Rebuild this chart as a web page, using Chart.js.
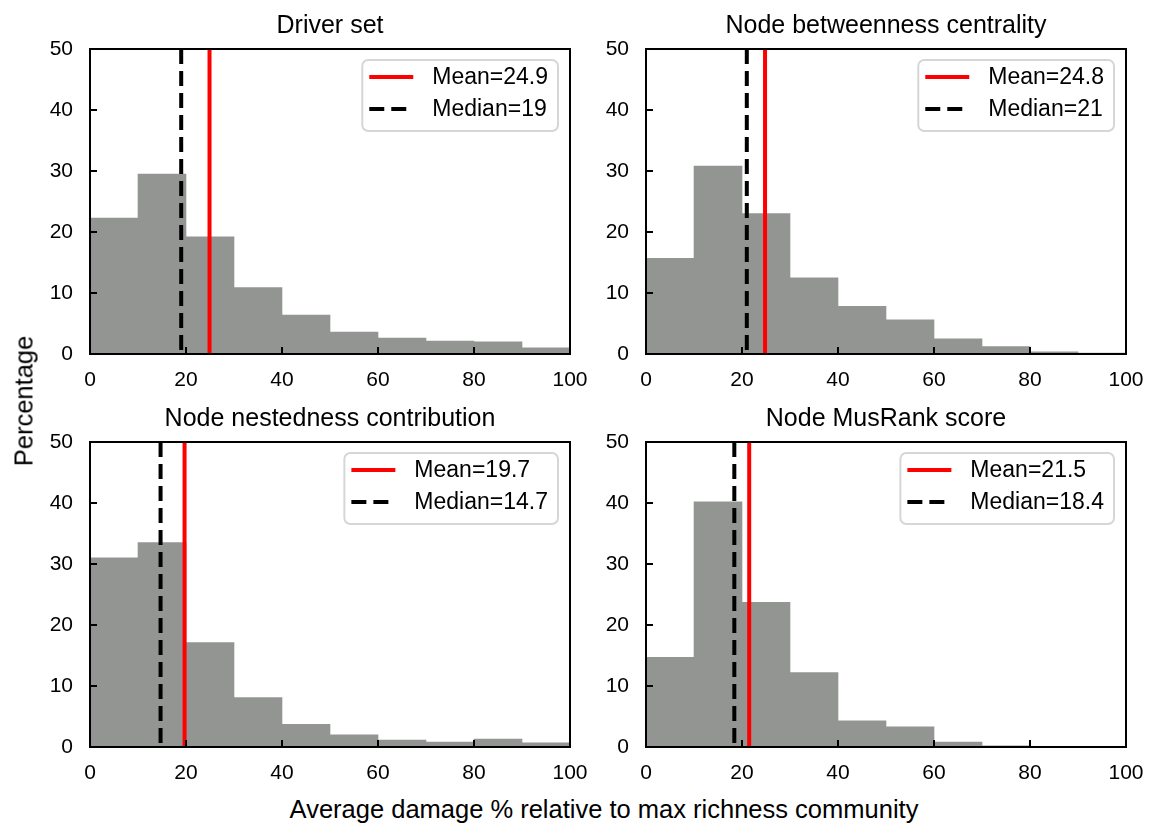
<!DOCTYPE html>
<html>
<head>
<meta charset="utf-8">
<title>Average damage histograms</title>
<script src="https://cdn.jsdelivr.net/npm/chart.js@4.4.1/dist/chart.umd.min.js"></script>
<style>
  body { margin: 0; background: #fff; }
  #fig { position: relative; width: 1159px; height: 824px; overflow: hidden;
         font-family: 'Liberation Sans', Arial, sans-serif; color: #000; }
  #fig canvas { position: absolute; }
  .xlabel { position: absolute; left: 604px; top: 797px; transform: translateX(-50%);
            font-size: 25.5px; line-height: 25px; white-space: nowrap; }
  .ylabel { position: absolute; left: 24px; top: 401px; transform: translate(-50%, -50%) rotate(-90deg);
            font-size: 25.5px; line-height: 25px; white-space: nowrap; }
</style>
</head>
<body>
<div id="fig">
  <canvas id="c0" width="570" height="394" style="left:20px; top:0px;"></canvas>
  <canvas id="c1" width="570" height="394" style="left:576px; top:0px;"></canvas>
  <canvas id="c2" width="570" height="394" style="left:20px; top:393px;"></canvas>
  <canvas id="c3" width="570" height="394" style="left:576px; top:393px;"></canvas>
  <div class="xlabel">Average damage % relative to max richness community</div>
  <div class="ylabel">Percentage</div>
</div>
<script>
// histogram bins (10-wide, 0..100)
const binCenters = [5, 15, 25, 35, 45, 55, 65, 75, 85, 95];

const titles = ['Driver set', 'Node betweenness centrality', 'Node nestedness contribution', 'Node MusRank score'];

// percentage of runs per bin
const driverSet   = [22.3, 29.5, 19.2, 10.9, 6.4, 3.6, 2.6, 2.1, 2.0, 1.0];
const betweenness = [15.7, 30.8, 23.0, 12.5, 7.8, 5.6, 2.5, 1.2, 0.35, 0.15];
const nestedness  = [31.0, 33.5, 17.1, 8.1, 3.7, 2.0, 1.15, 0.8, 1.3, 0.7];
const musRank     = [14.7, 40.2, 23.7, 12.2, 4.3, 3.3, 0.8, 0.2, 0, 0];

const means   = [24.9, 24.8, 19.7, 21.5];
const medians = [19, 21, 14.7, 18.4];

const xMax = 100, xStep = 20;
const yMax = 50, yStep = 10;

const series = [driverSet, betweenness, nestedness, musRank];

Chart.defaults.font.family = "'Liberation Sans', Arial, sans-serif";
Chart.defaults.color = '#000';

// frame, inward ticks, legend box and panel title
const panelDecor = {
  id: 'panelDecor',
  afterDatasetsDraw(chart, args, opts) {
    const { ctx, chartArea: a, scales: { x, y } } = chart;
    ctx.save();
    ctx.setLineDash([]);
    ctx.strokeStyle = '#000';
    ctx.lineWidth = 2;
    ctx.beginPath();
    x.ticks.forEach(t => {
      const px = Math.round(x.getPixelForValue(t.value));
      ctx.moveTo(px, a.bottom);
      ctx.lineTo(px, a.bottom - 7);
    });
    y.ticks.forEach(t => {
      const py = Math.round(y.getPixelForValue(t.value));
      ctx.moveTo(a.left, py);
      ctx.lineTo(a.left + 7, py);
    });
    ctx.stroke();
    ctx.strokeRect(a.left, a.top, a.right - a.left, a.bottom - a.top);

    // legend
    const items = chart.data.datasets.filter(d => d.type === 'line');
    ctx.font = '23px ' + Chart.defaults.font.family;
    const textW = Math.max(...items.map(d => ctx.measureText(d.label).width));
    const boxR = a.right - 12;
    const boxL = boxR - (70 + textW + 10);
    const boxT = a.top + 11;
    const boxH = 71;
    ctx.beginPath();
    ctx.roundRect(boxL, boxT, boxR - boxL, boxH, 6);
    ctx.fillStyle = 'rgba(255,255,255,0.85)';
    ctx.fill();
    ctx.strokeStyle = '#d6d6d6';
    ctx.lineWidth = 2;
    ctx.stroke();
    items.forEach((d, i) => {
      const cy = boxT + 17 + i * 32;
      ctx.beginPath();
      ctx.strokeStyle = d.borderColor;
      ctx.lineWidth = d.borderWidth;
      ctx.setLineDash(d.borderDash || []);
      ctx.moveTo(boxL + 7, cy);
      ctx.lineTo(boxL + 51, cy);
      ctx.stroke();
      ctx.setLineDash([]);
      ctx.fillStyle = '#000';
      ctx.textAlign = 'left';
      ctx.textBaseline = 'middle';
      ctx.fillText(d.label, boxL + 70, cy + 1);
    });

    // title
    ctx.font = '25px ' + Chart.defaults.font.family;
    ctx.textAlign = 'center';
    ctx.textBaseline = 'alphabetic';
    ctx.fillStyle = '#000';
    ctx.fillText(opts.title, (a.left + a.right) / 2, a.top - 16);
    ctx.restore();
  }
};

function vline(value) {
  return [{ x: value, y: yMax }, { x: value, y: 0 }];
}

function makePanel(canvasId, idx) {
  const ctx = document.getElementById(canvasId).getContext('2d');
  return new Chart(ctx, {
    type: 'bar',
    data: {
      datasets: [
        {
          type: 'line',
          label: 'Mean=' + means[idx],
          data: vline(means[idx]),
          borderColor: '#ff0000',
          borderWidth: 4,
          pointRadius: 0,
          order: 1
        },
        {
          type: 'line',
          label: 'Median=' + medians[idx],
          data: vline(medians[idx]),
          borderColor: '#000000',
          borderWidth: 4,
          borderDash: [15, 7],
          pointRadius: 0,
          order: 2
        },
        {
          type: 'bar',
          label: titles[idx],
          data: binCenters.map((c, i) => ({ x: c, y: series[idx][i] })),
          backgroundColor: '#939593',
          borderWidth: 0,
          barPercentage: 1.0,
          categoryPercentage: 1.0,
          order: 3
        }
      ]
    },
    options: {
      responsive: false,
      animation: false,
      events: [],
      layout: { padding: { top: 49, right: 20, left: 0, bottom: 0 } },
      scales: {
        x: {
          type: 'linear',
          min: 0,
          max: xMax,
          offset: false,
          grid: { display: false, offset: false },
          border: { display: false },
          ticks: { stepSize: xStep, padding: 6, maxRotation: 0, autoSkip: false, font: { size: 21 } },
          afterFit(scale) {
            scale.height = 40;
            scale.paddingLeft = 0;
            scale.paddingRight = 0;
          }
        },
        y: {
          min: 0,
          max: yMax,
          grid: { display: false },
          border: { display: false },
          ticks: { stepSize: yStep, padding: 9, font: { size: 21 } },
          afterFit(scale) {
            scale.width = 70;
            scale.paddingTop = 0;
            scale.paddingBottom = 0;
          }
        }
      },
      plugins: {
        legend: { display: false },
        tooltip: { enabled: false },
        panelDecor: { title: titles[idx] }
      }
    },
    plugins: [panelDecor]
  });
}

['c0', 'c1', 'c2', 'c3'].forEach(makePanel);
</script>
</body>
</html>
